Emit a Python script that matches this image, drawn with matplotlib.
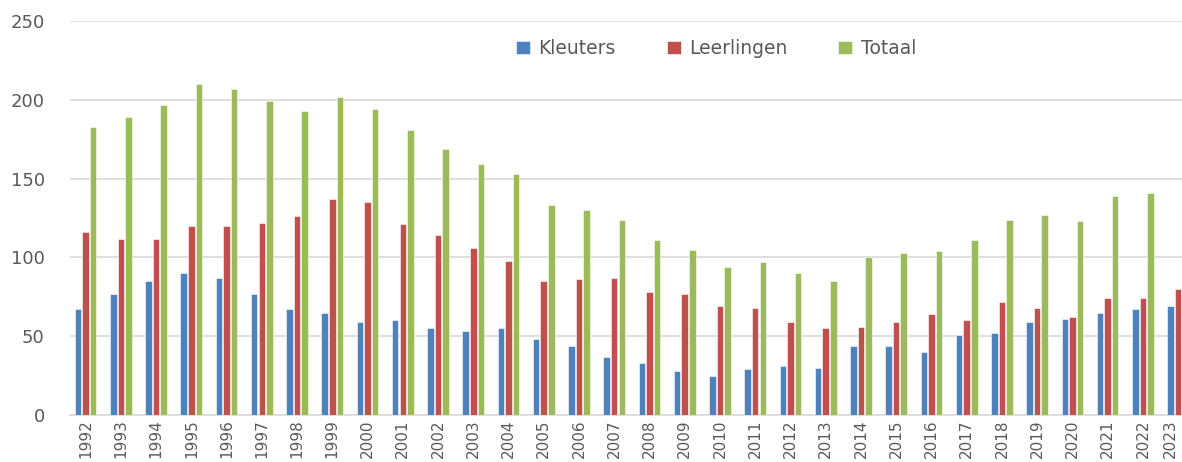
import numpy as np
import matplotlib
matplotlib.use("Agg")
import matplotlib.pyplot as plt

# jaartallen en aantallen
jaren = [str(j) for j in range(1992, 2024)]
kleuters = [67, 77, 85, 90, 87, 77, 67, 65, 59, 60, 55, 53, 55, 48, 44, 37,
            33, 28, 25, 29, 31, 30, 44, 44, 40, 51, 52, 59, 61, 65, 67, 69]
leerlingen = [116, 112, 112, 120, 120, 122, 126, 137, 135, 121, 114, 106, 98, 85, 86, 87,
              78, 77, 69, 68, 59, 55, 56, 59, 64, 60, 72, 68, 62, 74, 74, 80]
totaal = [183, 189, 197, 210, 207, 199, 193, 202, 194, 181, 169, 159, 153, 133, 130, 124,
          111, 105, 94, 97, 90, 85, 100, 103, 104, 111, 124, 127, 123, 139, 141, 149]

kleuren = ["#4f81bd", "#c0504d", "#9bbb59"]
grijs = "#595959"

plt.rcParams["font.family"] = ["DejaVu Sans"]

fig = plt.figure(figsize=(11.82, 4.62), dpi=100)
ax = fig.add_axes([0.059, 0.1017, 0.941, 0.8528])

x = np.arange(len(jaren))
breedte = 0.185
stap = 0.215
for i, (naam, reeks) in enumerate([("Kleuters", kleuters), ("Leerlingen", leerlingen), ("Totaal", totaal)]):
    ax.bar(x + (i - 1) * stap, reeks, width=breedte, color=kleuren[i], label=naam,
           edgecolor="white", linewidth=0.4, zorder=3)

ax.set_ylim(0, 250)
ax.set_yticks(range(0, 251, 50))
ax.set_xlim(-0.45, 31.11)
ax.set_xticks(x)
ax.set_xticklabels(jaren, rotation=90, fontsize=11, color=grijs)
# laatste jaartal valt tegen de rand, iets naar links zetten
ax.get_xticklabels()[-1].set_horizontalalignment("right")
ax.tick_params(axis="y", labelsize=13, labelcolor=grijs, length=0, pad=18)
ax.tick_params(axis="x", length=0, pad=3)

ax.grid(axis="y", color="#d9d9d9", linewidth=1.2, zorder=0)
for s in ["top", "right", "left"]:
    ax.spines[s].set_visible(False)
ax.spines["bottom"].set_color("#d9d9d9")
ax.spines["bottom"].set_linewidth(1.2)

ax.legend(loc="center", bbox_to_anchor=(0.581, 0.93), ncol=3, frameon=False,
          fontsize=13.5, labelcolor=grijs, handlelength=0.75, handleheight=0.75,
          handletextpad=0.45, columnspacing=2.7)

fig.savefig("out.png", dpi=100)
